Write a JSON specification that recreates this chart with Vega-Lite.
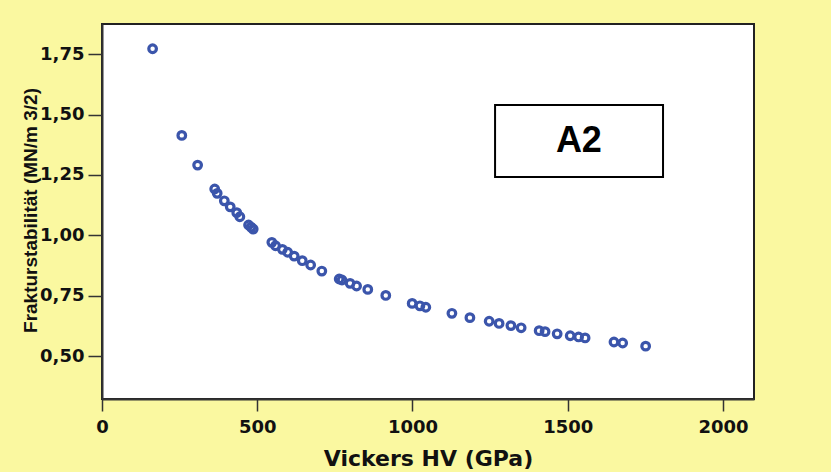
{
  "$schema": "https://vega.github.io/schema/vega-lite/v6.json",
  "width": 652,
  "height": 375,
  "autosize": {"type": "none"},
  "padding": {"left": 102, "top": 24, "right": 77, "bottom": 73},
  "background": "#FAF8A0",
  "config": {
    "view": {"fill": "white", "stroke": "#222", "strokeWidth": 2},
    "axis": {
      "grid": false,
      "domainColor": "#333",
      "domainWidth": 2,
      "tickColor": "#333",
      "tickWidth": 1.5,
      "labelFont": "DejaVu Sans",
      "labelFontWeight": "bold",
      "labelColor": "#111",
      "labelFlush": false,
      "titleFontWeight": "bold",
      "titleColor": "#111"
    }
  },
  "datasets": {
    "pts": [
      {"hv": 163, "k": 1.773}, {"hv": 257, "k": 1.414}, {"hv": 308, "k": 1.291},
      {"hv": 363, "k": 1.192}, {"hv": 371, "k": 1.174}, {"hv": 394, "k": 1.143},
      {"hv": 413, "k": 1.118}, {"hv": 434, "k": 1.094}, {"hv": 444, "k": 1.077},
      {"hv": 472, "k": 1.043}, {"hv": 480, "k": 1.034}, {"hv": 487, "k": 1.026},
      {"hv": 547, "k": 0.971}, {"hv": 559, "k": 0.957}, {"hv": 581, "k": 0.942},
      {"hv": 598, "k": 0.930}, {"hv": 619, "k": 0.914}, {"hv": 645, "k": 0.895},
      {"hv": 672, "k": 0.877}, {"hv": 708, "k": 0.852}, {"hv": 764, "k": 0.819},
      {"hv": 773, "k": 0.815}, {"hv": 799, "k": 0.801}, {"hv": 820, "k": 0.790},
      {"hv": 856, "k": 0.776}, {"hv": 914, "k": 0.751}, {"hv": 999, "k": 0.718},
      {"hv": 1024, "k": 0.708}, {"hv": 1043, "k": 0.702}, {"hv": 1127, "k": 0.677},
      {"hv": 1185, "k": 0.659}, {"hv": 1247, "k": 0.644}, {"hv": 1279, "k": 0.635},
      {"hv": 1317, "k": 0.626}, {"hv": 1350, "k": 0.617}, {"hv": 1408, "k": 0.605},
      {"hv": 1427, "k": 0.601}, {"hv": 1466, "k": 0.592}, {"hv": 1508, "k": 0.584},
      {"hv": 1535, "k": 0.579}, {"hv": 1556, "k": 0.575}, {"hv": 1649, "k": 0.558},
      {"hv": 1677, "k": 0.554}, {"hv": 1751, "k": 0.541}
    ],
    "box": [
      {"x1": 1266, "x2": 1807, "y1": 1.2415, "y2": 1.54, "xm": 1536, "ym": 1.39, "label": "A2"}
    ]
  },
  "layer": [
    {
      "data": {"name": "pts"},
      "mark": {"type": "point", "shape": "circle", "filled": false, "size": 58, "strokeWidth": 3.2, "color": "#3B55AB", "opacity": 1},
      "encoding": {
        "x": {
          "field": "hv", "type": "quantitative",
          "scale": {"domain": [0, 2100], "nice": false, "zero": false},
          "axis": {
            "values": [0, 500, 1000, 1500, 2000],
            "format": "d",
            "title": "Vickers HV (GPa)",
            "titleFont": "DejaVu Sans",
            "titleFontSize": 22,
            "titleBaseline": "alphabetic",
            "titleY": 66,
            "labelFontSize": 18,
            "tickSize": 12,
            "labelPadding": 7
          }
        },
        "y": {
          "field": "k", "type": "quantitative",
          "scale": {"domain": [0.322, 1.8755], "nice": false, "zero": false},
          "axis": {
            "values": [0.5, 0.75, 1.0, 1.25, 1.5, 1.75],
            "labelExpr": "replace(format(datum.value, '.2f'), '.', ',')",
            "title": "Frakturstabilität (MN/m 3/2)",
            "titleFont": "Liberation Sans",
            "titleFontSize": 19,
            "titleBaseline": "alphabetic",
            "titleX": -66,
            "titleY": 186,
            "labelFontSize": 18,
            "tickSize": 14,
            "labelPadding": 4
          }
        }
      }
    },
    {
      "data": {"name": "box"},
      "mark": {"type": "rect", "fill": "white", "stroke": "black", "strokeWidth": 2},
      "encoding": {
        "x": {"field": "x1", "type": "quantitative"},
        "x2": {"field": "x2"},
        "y": {"field": "y1", "type": "quantitative"},
        "y2": {"field": "y2"}
      }
    },
    {
      "data": {"name": "box"},
      "mark": {"type": "text", "font": "Liberation Sans", "fontWeight": "bold", "fontSize": 36, "color": "black", "align": "center", "baseline": "middle"},
      "encoding": {
        "x": {"field": "xm", "type": "quantitative"},
        "y": {"field": "ym", "type": "quantitative"},
        "text": {"field": "label"}
      }
    }
  ]
}
